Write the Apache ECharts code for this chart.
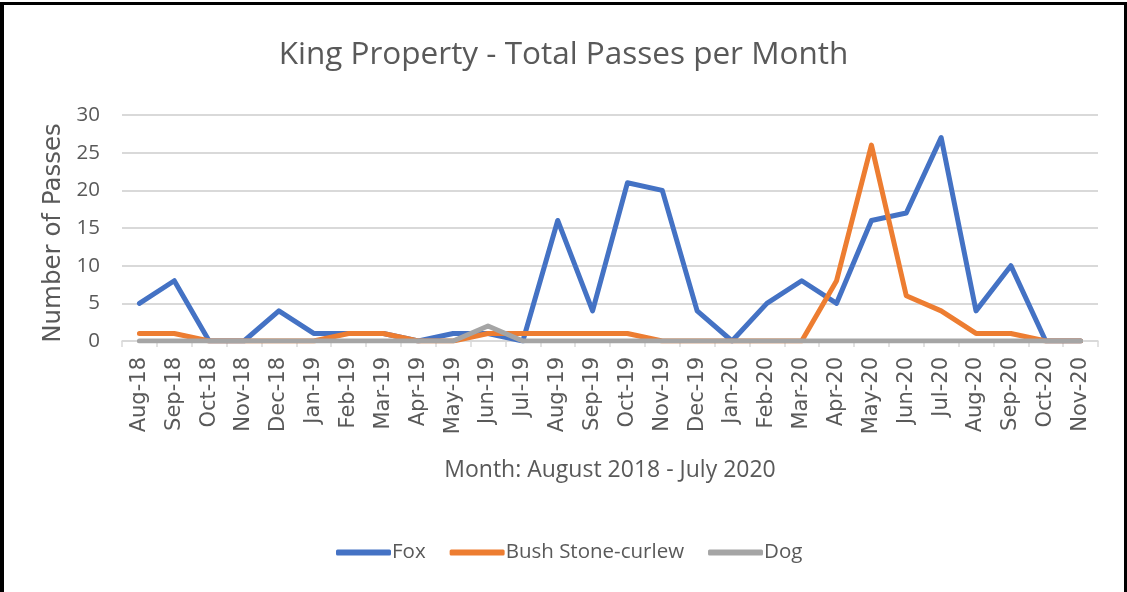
<!DOCTYPE html>
<html>
<head>
<meta charset="utf-8">
<script src="https://cdn.jsdelivr.net/npm/echarts@6/dist/echarts.min.js"></script>
<style>
html,body{margin:0;padding:0;background:#fff;}
#wrap{position:relative;width:1127px;height:592px;}
#chart{position:absolute;left:0;top:0;width:1127px;height:592px;}
#frame{position:absolute;left:0;top:2px;width:1120px;height:600px;border-left:4px solid #000;border-right:3px solid #000;border-top:3px solid #000;pointer-events:none;}
</style>
</head>
<body>
<div id="wrap"><div id="chart"></div><div id="frame"></div></div>
<script>
const months = ['Aug-18','Sep-18','Oct-18','Nov-18','Dec-18','Jan-19','Feb-19','Mar-19','Apr-19','May-19','Jun-19','Jul-19','Aug-19','Sep-19','Oct-19','Nov-19','Dec-19','Jan-20','Feb-20','Mar-20','Apr-20','May-20','Jun-20','Jul-20','Aug-20','Sep-20','Oct-20','Nov-20'];
const fox = [5,8,0,0,4,1,1,1,0,1,1,0,16,4,21,20,4,0,5,8,5,16,17,27,4,10,0,0];
const curlew = [1,1,0,0,0,0,1,1,0,0,1,1,1,1,1,0,0,0,0,0,8,26,6,4,1,1,0,0];
const dog = [0,0,0,0,0,0,0,0,0,0,2,0,0,0,0,0,0,0,0,0,0,0,0,0,0,0,0,0];
const yTicks = [0,5,10,15,20,25,30];

const txt = '#595959';
const chart = echarts.init(document.getElementById('chart'), null, {renderer:'canvas'});
function mk(name, data, color){
  return {name, type:'line', data, symbol:'none', smooth:false,
    lineStyle:{color, width:5, cap:'round', join:'round'}, itemStyle:{color}, animation:false};
}
chart.setOption({
  animation:false,
  title:{text:'King Property - Total Passes per Month', left:'center', top:34,
    textStyle:{fontFamily:'Open Sans', fontSize:31.5, fontWeight:'normal', color:txt}},
  grid:{left:122, right:29, top:115, bottom:251, containLabel:false},
  legend:{left:331, top:537, itemWidth:55, itemHeight:6, itemGap:24, icon:'roundRect',
    textStyle:{fontFamily:'Open Sans', fontSize:20.5, color:txt, padding:[0,0,0,-4]},
    data:['Fox','Bush Stone-curlew','Dog']},
  xAxis:{type:'category', data:months, boundaryGap:true,
    name:'Month: August 2018 - July 2020', nameLocation:'middle', nameGap:118,
    nameTextStyle:{fontFamily:'Open Sans', fontSize:23, color:txt, verticalAlign:'top'},
    axisLine:{lineStyle:{color:'#D9D9D9', width:1.5}},
    axisTick:{show:true, alignWithLabel:false, length:6, lineStyle:{color:'#D9D9D9', width:1.5}},
    axisLabel:{rotate:90, margin:16, interval:0, fontFamily:'DejaVu Sans', fontSize:21, color:txt}},
  yAxis:{type:'value', min:0, max:30, interval:5,
    name:'Number of Passes', nameLocation:'middle', nameGap:55, nameRotate:90,
    nameTextStyle:{fontFamily:'DejaVu Sans', fontSize:24.5, color:txt, padding:[0,10,0,0]},
    axisLine:{show:false}, axisTick:{show:false},
    axisLabel:{fontFamily:'Open Sans', fontSize:20.5, color:txt, margin:22,
      formatter:v=>yTicks.includes(v)?String(v):''},
    splitLine:{lineStyle:{color:'#D9D9D9', width:2}}},
  series:[mk('Fox', fox, '#4472C4'), mk('Bush Stone-curlew', curlew, '#ED7D31'), mk('Dog', dog, '#A5A5A5')]
});
</script>
</body>
</html>
